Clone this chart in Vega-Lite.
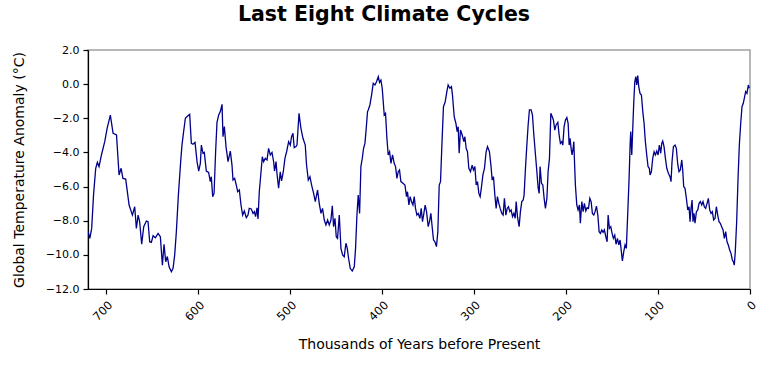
{
  "$schema": "https://vega.github.io/schema/vega-lite/v6.json",
  "autosize": {"type": "none"},
  "width": 662,
  "height": 239,
  "padding": {"left": 88, "top": 50, "right": 18, "bottom": 76},
  "background": "white",
  "title": {
    "text": "Last Eight Climate Cycles",
    "font": "DejaVu Sans",
    "fontSize": 20.5,
    "fontWeight": "bold",
    "color": "black",
    "offset": 19,
    "dx": -35
  },
  "config": {
    "view": {"stroke": "#a0a0a0", "strokeWidth": 1.5},
    "axis": {
      "labelFont": "DejaVu Sans",
      "titleFont": "DejaVu Sans",
      "labelFontSize": 11,
      "titleFontSize": 14,
      "titleFontWeight": "normal",
      "labelColor": "black",
      "titleColor": "black",
      "domainColor": "black",
      "tickColor": "black",
      "domainWidth": 1.2,
      "tickWidth": 1.2,
      "tickSize": 5,
      "grid": false
    }
  },
  "data": {
    "values": [
      {"k": 719.9, "t": -8.64}, {"k": 718, "t": -9.03}, {"k": 716, "t": -8.45}, {"k": 714, "t": -6.5},
      {"k": 711.6, "t": -4.93}, {"k": 709.8, "t": -4.58}, {"k": 708, "t": -4.83}, {"k": 705.4, "t": -4.15},
      {"k": 701.8, "t": -3.37}, {"k": 699.2, "t": -2.59}, {"k": 695.7, "t": -1.81}, {"k": 692.7, "t": -2.88},
      {"k": 689, "t": -2.98}, {"k": 686.2, "t": -5.32}, {"k": 684, "t": -4.93}, {"k": 682, "t": -5.52},
      {"k": 679, "t": -5.56}, {"k": 675.3, "t": -7.08}, {"k": 671.7, "t": -7.67}, {"k": 669.2, "t": -7.18},
      {"k": 667.4, "t": -8.45}, {"k": 665.5, "t": -7.67}, {"k": 663.8, "t": -8.06}, {"k": 661.6, "t": -9.38},
      {"k": 659.4, "t": -8.35}, {"k": 656.5, "t": -8.02}, {"k": 654.7, "t": -8.06}, {"k": 652.9, "t": -9.23},
      {"k": 651.1, "t": -9.27}, {"k": 649.2, "t": -8.88}, {"k": 646.7, "t": -9.0}, {"k": 643.8, "t": -8.74},
      {"k": 641.3, "t": -8.94}, {"k": 639.1, "t": -10.6}, {"k": 637.3, "t": -9.38}, {"k": 635.5, "t": -10.4},
      {"k": 633.7, "t": -10.1}, {"k": 631.8, "t": -10.7}, {"k": 629.3, "t": -10.99}, {"k": 627.5, "t": -10.79},
      {"k": 625.7, "t": -10.0}, {"k": 623.9, "t": -8.64}, {"k": 621.7, "t": -6.5}, {"k": 619.2, "t": -4.54},
      {"k": 617.8, "t": -3.57}, {"k": 616, "t": -2.78}, {"k": 614.1, "t": -2.0}, {"k": 611.6, "t": -1.87},
      {"k": 609.4, "t": -1.77}, {"k": 607.6, "t": -3.47}, {"k": 605.8, "t": -3.52}, {"k": 603.6, "t": -3.41},
      {"k": 601.4, "t": -4.54}, {"k": 599.6, "t": -5.09}, {"k": 597.8, "t": -4.64}, {"k": 596.7, "t": -3.57},
      {"k": 594.9, "t": -4.05}, {"k": 593.5, "t": -4.0}, {"k": 591.3, "t": -5.09}, {"k": 588.8, "t": -5.17},
      {"k": 587, "t": -5.71}, {"k": 585.9, "t": -5.42}, {"k": 584.4, "t": -6.59}, {"k": 582.9, "t": -6.4},
      {"k": 581.2, "t": -3.96}, {"k": 579.7, "t": -2.24}, {"k": 577.9, "t": -1.81}, {"k": 576.1, "t": -1.61},
      {"k": 574.2, "t": -1.18}, {"k": 573.2, "t": -3.08}, {"k": 571.7, "t": -2.49}, {"k": 569.9, "t": -3.66},
      {"k": 567.7, "t": -4.54}, {"k": 565.2, "t": -3.92}, {"k": 563.4, "t": -4.74}, {"k": 562.3, "t": -5.62},
      {"k": 560.5, "t": -5.52}, {"k": 558.7, "t": -5.91}, {"k": 557.2, "t": -6.3}, {"k": 555.4, "t": -6.2},
      {"k": 553.6, "t": -7.08}, {"k": 551.8, "t": -7.67}, {"k": 550, "t": -7.43}, {"k": 547.8, "t": -7.82},
      {"k": 546, "t": -7.67}, {"k": 544.6, "t": -7.28}, {"k": 542.4, "t": -7.31}, {"k": 540.5, "t": -7.57},
      {"k": 539.1, "t": -7.47}, {"k": 537.7, "t": -7.76}, {"k": 536.2, "t": -7.24}, {"k": 535.1, "t": -7.9},
      {"k": 533.7, "t": -6.3}, {"k": 531.8, "t": -5.13}, {"k": 530.4, "t": -4.25}, {"k": 529, "t": -4.54},
      {"k": 527.2, "t": -4.35}, {"k": 525.3, "t": -4.44}, {"k": 523.6, "t": -3.76}, {"k": 521.7, "t": -4.15},
      {"k": 519.9, "t": -4.0}, {"k": 518.1, "t": -4.54}, {"k": 517.1, "t": -5.09}, {"k": 515.5, "t": -4.54},
      {"k": 514.5, "t": -5.22}, {"k": 512.7, "t": -6.1}, {"k": 510.9, "t": -5.13}, {"k": 509.5, "t": -5.67},
      {"k": 507.6, "t": -5.13}, {"k": 505.8, "t": -4.35}, {"k": 504, "t": -3.96}, {"k": 501.8, "t": -3.37},
      {"k": 500, "t": -3.57}, {"k": 498.6, "t": -3.08}, {"k": 497.1, "t": -2.88}, {"k": 495.7, "t": -3.72},
      {"k": 493.8, "t": -3.66}, {"k": 492.7, "t": -3.57}, {"k": 490.5, "t": -1.71}, {"k": 488.4, "t": -2.59},
      {"k": 486.2, "t": -3.17}, {"k": 483.7, "t": -3.57}, {"k": 482.3, "t": -4.74}, {"k": 480.4, "t": -5.62},
      {"k": 478.6, "t": -5.42}, {"k": 476.8, "t": -5.91}, {"k": 474.6, "t": -6.4}, {"k": 472.8, "t": -6.88},
      {"k": 470.3, "t": -6.2}, {"k": 468.5, "t": -6.98}, {"k": 466.6, "t": -7.57}, {"k": 464.9, "t": -7.28},
      {"k": 463, "t": -7.96}, {"k": 461.2, "t": -8.25}, {"k": 459.4, "t": -7.96}, {"k": 457.6, "t": -8.25},
      {"k": 455.8, "t": -7.96}, {"k": 454.3, "t": -7.12}, {"k": 452.9, "t": -8.35}, {"k": 451.4, "t": -7.86},
      {"k": 450, "t": -8.94}, {"k": 448.6, "t": -9.03}, {"k": 446.7, "t": -7.67}, {"k": 444.9, "t": -9.62},
      {"k": 443.1, "t": -10.0}, {"k": 441.3, "t": -10.11}, {"k": 439.5, "t": -9.32}, {"k": 438, "t": -9.62},
      {"k": 436.6, "t": -10.2}, {"k": 434.8, "t": -10.79}, {"k": 432.6, "t": -10.95}, {"k": 430.4, "t": -10.7},
      {"k": 429, "t": -9.62}, {"k": 427.5, "t": -7.67}, {"k": 426.1, "t": -6.5}, {"k": 424.6, "t": -7.57},
      {"k": 423.2, "t": -4.83}, {"k": 421.7, "t": -4.35}, {"k": 420.3, "t": -3.76}, {"k": 418.8, "t": -3.47},
      {"k": 417.4, "t": -2.59}, {"k": 416, "t": -1.61}, {"k": 415.2, "t": -1.51}, {"k": 413.4, "t": -1.22},
      {"k": 411.6, "t": -0.64}, {"k": 409.8, "t": 0.05}, {"k": 407.9, "t": -0.05}, {"k": 406.2, "t": 0.14},
      {"k": 404.3, "t": 0.44}, {"k": 402.9, "t": 0.1}, {"k": 401.4, "t": 0.24}, {"k": 400, "t": -0.24},
      {"k": 397.8, "t": -1.81}, {"k": 396.4, "t": -1.71}, {"k": 394.9, "t": -3.17}, {"k": 393.5, "t": -4.15},
      {"k": 392, "t": -3.96}, {"k": 390.5, "t": -4.64}, {"k": 388.8, "t": -4.15}, {"k": 387, "t": -4.64},
      {"k": 385.5, "t": -4.83}, {"k": 384, "t": -5.52}, {"k": 382.6, "t": -5.13}, {"k": 381.2, "t": -5.03},
      {"k": 379.7, "t": -5.71}, {"k": 377.5, "t": -5.81}, {"k": 375.3, "t": -5.91}, {"k": 373.6, "t": -6.59},
      {"k": 372.5, "t": -6.3}, {"k": 371, "t": -7.08}, {"k": 369.6, "t": -6.59}, {"k": 368.2, "t": -6.88},
      {"k": 366.6, "t": -7.08}, {"k": 365.2, "t": -6.59}, {"k": 363.8, "t": -7.28}, {"k": 362.3, "t": -7.67},
      {"k": 360.9, "t": -7.57}, {"k": 359, "t": -7.86}, {"k": 357.6, "t": -7.28}, {"k": 356.2, "t": -8.06},
      {"k": 354.7, "t": -7.57}, {"k": 353.3, "t": -7.08}, {"k": 351.8, "t": -7.47}, {"k": 350, "t": -8.35},
      {"k": 348.6, "t": -8.06}, {"k": 347.1, "t": -7.57}, {"k": 345.7, "t": -8.35}, {"k": 344.2, "t": -9.13},
      {"k": 342.7, "t": -9.23}, {"k": 341, "t": -9.52}, {"k": 339.5, "t": -8.64}, {"k": 338, "t": -5.91},
      {"k": 336.6, "t": -5.71}, {"k": 335.1, "t": -3.57}, {"k": 333.4, "t": -1.32}, {"k": 331.5, "t": -1.03},
      {"k": 329.7, "t": -0.44}, {"k": 328.3, "t": -0.05}, {"k": 326.4, "t": -0.24}, {"k": 324.7, "t": -0.15},
      {"k": 323.6, "t": -0.64}, {"k": 321.7, "t": -1.9}, {"k": 319.9, "t": -2.29}, {"k": 318.5, "t": -2.78},
      {"k": 317.4, "t": -2.49}, {"k": 316.3, "t": -4.05}, {"k": 314.9, "t": -2.69}, {"k": 313, "t": -2.98},
      {"k": 311.2, "t": -3.37}, {"k": 310.1, "t": -3.08}, {"k": 308.7, "t": -3.76}, {"k": 307.3, "t": -3.96},
      {"k": 305.8, "t": -4.93}, {"k": 304, "t": -5.13}, {"k": 302.2, "t": -4.74}, {"k": 300.8, "t": -5.03},
      {"k": 299.2, "t": -4.83}, {"k": 297.8, "t": -5.91}, {"k": 296.4, "t": -5.71}, {"k": 294.9, "t": -6.4},
      {"k": 293.5, "t": -6.59}, {"k": 292, "t": -6.0}, {"k": 290.5, "t": -5.32}, {"k": 288.8, "t": -4.93},
      {"k": 287, "t": -3.96}, {"k": 285.5, "t": -3.66}, {"k": 283.4, "t": -3.96}, {"k": 281.8, "t": -4.74},
      {"k": 280.4, "t": -5.62}, {"k": 279, "t": -5.42}, {"k": 277.5, "t": -6.5}, {"k": 276.1, "t": -7.28},
      {"k": 274.7, "t": -6.59}, {"k": 273.2, "t": -6.98}, {"k": 271.7, "t": -7.28}, {"k": 269.9, "t": -7.57},
      {"k": 268.5, "t": -7.67}, {"k": 267.1, "t": -6.69}, {"k": 265.5, "t": -7.67}, {"k": 264.1, "t": -7.28},
      {"k": 262.7, "t": -7.18}, {"k": 261.2, "t": -7.47}, {"k": 259.8, "t": -7.37}, {"k": 258.3, "t": -7.76},
      {"k": 256.8, "t": -7.57}, {"k": 255.4, "t": -7.86}, {"k": 254.3, "t": -6.88}, {"k": 252.9, "t": -7.76},
      {"k": 251.1, "t": -8.35}, {"k": 249.7, "t": -7.47}, {"k": 248.2, "t": -6.88}, {"k": 246.7, "t": -6.79},
      {"k": 245.7, "t": -6.5}, {"k": 244.2, "t": -4.93}, {"k": 242.7, "t": -3.57}, {"k": 241.3, "t": -2.39},
      {"k": 239.9, "t": -1.51}, {"k": 238, "t": -1.51}, {"k": 236.6, "t": -1.81}, {"k": 235.1, "t": -2.98},
      {"k": 233.3, "t": -4.15}, {"k": 231.8, "t": -5.13}, {"k": 230.4, "t": -6.1}, {"k": 229.3, "t": -6.4},
      {"k": 228.3, "t": -4.83}, {"k": 226.8, "t": -5.81}, {"k": 225.3, "t": -5.91}, {"k": 223.9, "t": -6.69},
      {"k": 222.5, "t": -7.28}, {"k": 220.9, "t": -6.69}, {"k": 219.6, "t": -5.13}, {"k": 218.1, "t": -4.35},
      {"k": 216.6, "t": -1.71}, {"k": 215.2, "t": -1.9}, {"k": 213.8, "t": -2.1}, {"k": 212.3, "t": -2.69},
      {"k": 210.9, "t": -2.39}, {"k": 209, "t": -2.24}, {"k": 207.6, "t": -2.98}, {"k": 206.2, "t": -3.47},
      {"k": 204.7, "t": -3.37}, {"k": 203.6, "t": -3.57}, {"k": 202.2, "t": -2.49}, {"k": 200.7, "t": -2.1},
      {"k": 199.2, "t": -1.96}, {"k": 197.8, "t": -2.29}, {"k": 196.7, "t": -3.57}, {"k": 195.7, "t": -3.17},
      {"k": 194.6, "t": -3.76}, {"k": 193.5, "t": -4.15}, {"k": 192.4, "t": -3.76}, {"k": 191.6, "t": -3.37},
      {"k": 191, "t": -4.35}, {"k": 189.9, "t": -5.91}, {"k": 188.4, "t": -7.08}, {"k": 187, "t": -7.37},
      {"k": 185.5, "t": -7.08}, {"k": 184.5, "t": -8.15}, {"k": 182.9, "t": -6.88}, {"k": 181.5, "t": -7.47},
      {"k": 180.1, "t": -6.98}, {"k": 178.6, "t": -7.43}, {"k": 177.2, "t": -7.24}, {"k": 175.7, "t": -7.28},
      {"k": 174.2, "t": -6.69}, {"k": 172.8, "t": -6.88}, {"k": 171.4, "t": -7.57}, {"k": 169.9, "t": -7.67},
      {"k": 168.5, "t": -7.47}, {"k": 167, "t": -7.14}, {"k": 165.5, "t": -7.67}, {"k": 164.1, "t": -8.64},
      {"k": 162.7, "t": -8.74}, {"k": 161.2, "t": -8.54}, {"k": 159.8, "t": -8.68}, {"k": 158.4, "t": -8.54},
      {"k": 156.8, "t": -8.94}, {"k": 155.4, "t": -9.23}, {"k": 154.3, "t": -7.67}, {"k": 152.9, "t": -8.45},
      {"k": 151.4, "t": -8.35}, {"k": 150, "t": -8.74}, {"k": 148.6, "t": -9.03}, {"k": 147.1, "t": -8.84},
      {"k": 145.7, "t": -9.38}, {"k": 144.2, "t": -9.03}, {"k": 142.7, "t": -9.42}, {"k": 141.3, "t": -9.13},
      {"k": 139.9, "t": -9.81}, {"k": 138.8, "t": -10.36}, {"k": 137.3, "t": -9.81}, {"k": 135.9, "t": -9.42},
      {"k": 134.5, "t": -9.62}, {"k": 132.9, "t": -7.47}, {"k": 131.5, "t": -5.52}, {"k": 130.4, "t": -3.57},
      {"k": 129.7, "t": -2.78}, {"k": 128.6, "t": -4.15}, {"k": 127.5, "t": -2.59}, {"k": 126.4, "t": -1.03},
      {"k": 125.3, "t": 0.14}, {"k": 124.2, "t": 0.44}, {"k": 123.2, "t": -0.05}, {"k": 122.1, "t": 0.5},
      {"k": 121, "t": -0.15}, {"k": 119.6, "t": -0.54}, {"k": 118.1, "t": -0.64}, {"k": 116.6, "t": -1.61},
      {"k": 115.2, "t": -2.29}, {"k": 113.8, "t": -3.37}, {"k": 112.3, "t": -4.15}, {"k": 110.9, "t": -4.83},
      {"k": 109.5, "t": -4.93}, {"k": 108.7, "t": -5.32}, {"k": 107.3, "t": -5.13}, {"k": 105.8, "t": -4.35},
      {"k": 104.3, "t": -3.96}, {"k": 102.9, "t": -4.15}, {"k": 101.4, "t": -3.92}, {"k": 100, "t": -4.15},
      {"k": 98.6, "t": -3.57}, {"k": 97.1, "t": -4.05}, {"k": 96, "t": -3.47}, {"k": 94.9, "t": -3.33},
      {"k": 93.5, "t": -3.66}, {"k": 92, "t": -4.35}, {"k": 90.5, "t": -4.93}, {"k": 88.8, "t": -5.22},
      {"k": 87, "t": -5.42}, {"k": 85.9, "t": -5.71}, {"k": 84.8, "t": -4.54}, {"k": 83.3, "t": -3.66},
      {"k": 81.5, "t": -3.57}, {"k": 80.1, "t": -3.76}, {"k": 78.6, "t": -4.69}, {"k": 77.2, "t": -5.13},
      {"k": 75.8, "t": -5.03}, {"k": 74.2, "t": -4.44}, {"k": 73.2, "t": -5.03}, {"k": 72.1, "t": -6.0},
      {"k": 70.7, "t": -6.1}, {"k": 69.2, "t": -6.69}, {"k": 67.7, "t": -7.37}, {"k": 66.3, "t": -7.18},
      {"k": 65.2, "t": -8.06}, {"k": 64.1, "t": -7.28}, {"k": 63, "t": -6.79}, {"k": 62, "t": -8.06},
      {"k": 60.9, "t": -7.57}, {"k": 59.8, "t": -8.15}, {"k": 58.3, "t": -7.47}, {"k": 56.8, "t": -7.37},
      {"k": 55.4, "t": -6.98}, {"k": 54, "t": -6.88}, {"k": 52.5, "t": -7.08}, {"k": 51.1, "t": -6.88},
      {"k": 49.7, "t": -7.18}, {"k": 48.2, "t": -7.28}, {"k": 46.7, "t": -6.98}, {"k": 45.3, "t": -6.69},
      {"k": 43.8, "t": -7.37}, {"k": 42.4, "t": -7.57}, {"k": 41, "t": -7.47}, {"k": 39.5, "t": -7.96},
      {"k": 38, "t": -7.86}, {"k": 36.6, "t": -7.18}, {"k": 35.1, "t": -7.67}, {"k": 33.7, "t": -8.06},
      {"k": 32.3, "t": -8.15}, {"k": 30.8, "t": -8.35}, {"k": 29.3, "t": -8.54}, {"k": 27.9, "t": -9.03},
      {"k": 26.4, "t": -8.64}, {"k": 25, "t": -9.23}, {"k": 23.6, "t": -9.42}, {"k": 22.1, "t": -9.72},
      {"k": 20.7, "t": -9.91}, {"k": 19.2, "t": -10.3}, {"k": 18.1, "t": -10.4}, {"k": 17.1, "t": -10.6},
      {"k": 16, "t": -9.81}, {"k": 14.5, "t": -8.06}, {"k": 13, "t": -5.52}, {"k": 11.6, "t": -3.57},
      {"k": 10.1, "t": -2.29}, {"k": 8.7, "t": -1.32}, {"k": 7.3, "t": -1.12}, {"k": 6.2, "t": -0.83},
      {"k": 4.7, "t": -0.44}, {"k": 3.3, "t": -0.54}, {"k": 1.8, "t": -0.05}, {"k": 0.8, "t": -0.24}
    ]
  },
  "mark": {"type": "line", "color": "#00008b", "strokeWidth": 1.3, "clip": true},
  "encoding": {
    "x": {
      "field": "k",
      "type": "quantitative",
      "scale": {"domain": [0, 720], "reverse": true, "nice": false, "zero": false},
      "axis": {
        "values": [0, 100, 200, 300, 400, 500, 600, 700],
        "format": "d",
        "labelAngle": -45,
        "labelPadding": 5,
        "labelFontSize": 11.5,
        "title": "Thousands of Years before Present",
        "titlePadding": 15
      }
    },
    "y": {
      "field": "t",
      "type": "quantitative",
      "scale": {"domain": [-12, 2], "nice": false, "zero": false},
      "axis": {
        "values": [-12, -10, -8, -6, -4, -2, 0, 2],
        "format": ".1f",
        "labelPadding": 4,
        "title": "Global Temperature Anomaly (°C)",
        "titlePadding": 19
      }
    }
  }
}
